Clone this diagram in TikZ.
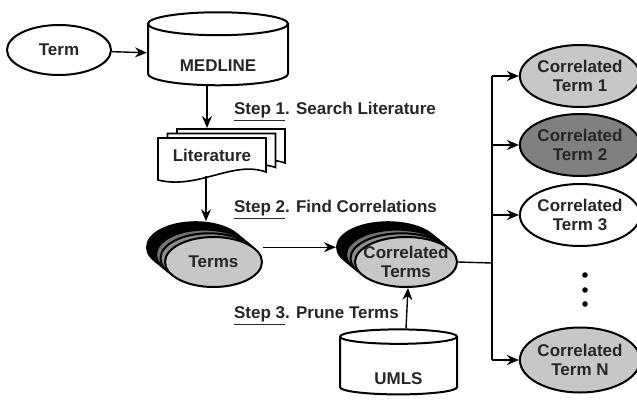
\documentclass[tikz,border=0pt]{standalone}
\usepackage{fontspec}
\setmainfont{Liberation Sans}
\usetikzlibrary{shapes.geometric, arrows.meta, positioning}

\tikzset{
  every node/.style={font=\fontsize{8.5}{9.5}\selectfont\bfseries, text=black!85, align=center},
  oval/.style={ellipse, draw, line width=1pt, inner sep=0pt},
  db/.style={cylinder, shape border rotate=90, draw, line width=1pt, aspect=0.3, inner sep=0pt, fill=white},
  link/.style={-{Stealth[length=6pt, width=5pt, inset=2pt]}, line width=0.7pt},
  paper/.style={draw, line width=0.8pt, fill=white},
}

\begin{document}
\begin{tikzpicture}[x=0.5pt, y=-0.5pt]
  \useasboundingbox (0,0) rectangle (637,407);

  \node [oval, minimum width=52pt, minimum height=25pt] (term) at (59,50) {Term};
  \node [db, minimum width=70pt, minimum height=36.5pt, text height=16pt] (medline) at (218,55) {MEDLINE};

  % literature stack
  \foreach \dx/\dy in {19/-9, 9.5/-4.5, 0/0} {
    \begin{scope}[shift={(\dx,\dy)}]
      \draw [paper] (158,138) -- (266,138) -- (266,172)
        .. controls (233,160) and (198,190) .. (158,180) -- cycle;
    \end{scope}
  }
  \node [minimum width=54pt, minimum height=21pt, inner sep=0pt] (lit) at (212,155) {Literature};
  \coordinate (lit top) at (207,128);

  % terms stack
  \foreach \k/\c in {4/black, 3/black, 2/black!55, 1/black!45, 0/black!22} {
    \node [oval, fill=\c, minimum width=48.5pt, minimum height=25pt] (terms\k) at ({213.5-4.5*\k},{262-3.7*\k}) {};
  }
  \node (terms) at (terms0) {Terms};

  \foreach \k/\c in {4/black, 3/black, 2/black!55, 1/black!45, 0/black!22} {
    \node [oval, fill=\c, minimum width=51pt, minimum height=25pt] (corr\k) at ({406-4.5*\k},{262-3.7*\k}) {};
  }
  \node (corr) at (corr0) {Correlated\\Terms};

  \node [db, minimum width=58.5pt, minimum height=32.5pt, text height=19pt] (umls) at (398.5,366) {UMLS};

  % outcomes
  \node [oval, fill=black!22, minimum width=58pt, minimum height=31pt] (ct1) at (580,76) {Correlated\\Term 1};
  \node [oval, fill=black!50, minimum width=58pt, minimum height=31pt] (ct2) at (580,145) {Correlated\\Term 2};
  \node [oval, fill=white, minimum width=58pt, minimum height=31pt] (ct3) at (580,215) {Correlated\\Term 3};
  \node [oval, fill=black!22, minimum width=58pt, minimum height=32.5pt] (ctN) at (580,360) {Correlated\\Term N};
  \foreach \y in {275,290,304} \fill (585,\y) circle (1.4pt);

  \node [anchor=west] (step1) at (227,112) {\underline{Step 1}. Search Literature};
  \node [anchor=west] (step2) at (227,210) {\underline{Step 2}. Find Correlations};
  \node [anchor=west] (step3) at (227,316) {\underline{Step 3}. Prune Terms};

  \draw [link] (term) -- (medline);
  \draw [link] (medline.south -| lit top) -- (lit top);
  \draw [link] ([xshift=-3pt]lit.south) -- ([xshift=-3pt]lit.south |- terms4.north);
  \draw [link] (terms0.east |- corr4.west) -- (corr4.west);
  \draw [link] (umls.north -| corr0.south) -- ([xshift=1pt]corr0.south);

  \coordinate (fork) at (492,263);
  \draw [line width=0.7pt] (corr0.east) -- (fork);
  \draw [line width=0.7pt] (fork |- ct1.west) -- (fork |- ctN.west);
  \foreach \n in {1,2,3,N} \draw [link] (fork |- ct\n.west) -- (ct\n.west);
\end{tikzpicture}
\end{document}
